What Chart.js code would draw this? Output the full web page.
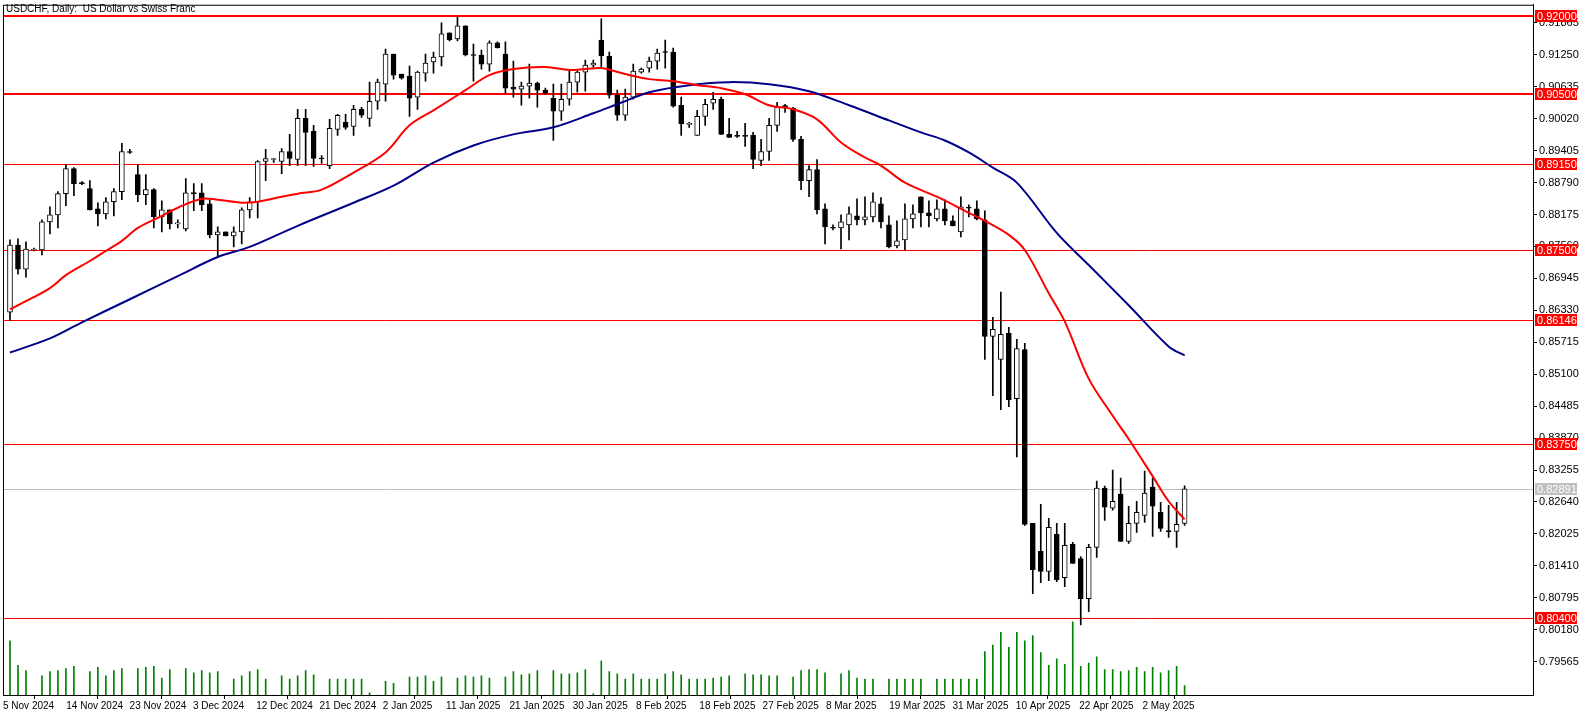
<!DOCTYPE html>
<html><head><meta charset="utf-8">
<script src="https://cdn.jsdelivr.net/npm/chart.js@4/dist/chart.umd.min.js"></script>
<style>html,body{margin:0;padding:0;background:#fff}canvas{display:block}</style>
</head><body>
<canvas id="c" width="1586" height="715"></canvas>
<script>
const title = 'USDCHF, Daily:  US Dollar vs Swiss Franc';
const dateLabels = ['5 Nov 2024','14 Nov 2024','23 Nov 2024','3 Dec 2024','12 Dec 2024','21 Dec 2024','2 Jan 2025','11 Jan 2025','21 Jan 2025','30 Jan 2025','8 Feb 2025','18 Feb 2025','27 Feb 2025','8 Mar 2025','19 Mar 2025','31 Mar 2025','10 Apr 2025','22 Apr 2025','2 May 2025'];
const priceTicks = [0.91865,0.91250,0.90635,0.90020,0.89405,0.88790,0.88175,0.87560,0.86945,0.86330,0.85715,0.85100,0.84485,0.83870,0.83255,0.82640,0.82025,0.81410,0.80795,0.80180,0.79565];
const levels = [0.92000,0.90500,0.89150,0.87500,0.86146,0.83750,0.80400];
const lastPrice = 0.82891;

const open = [0.86292,0.87588,0.87124,0.87491,0.87491,0.88033,0.88168,0.88575,0.89059,0.88788,
0.88672,0.88285,0.88188,0.88420,0.88614,0.89388,0.88943,0.88556,0.88653,0.88130,
0.88265,0.87995,0.87898,0.88594,0.88594,0.88382,0.87782,0.87840,0.87762,0.87840,
0.88265,0.88420,0.89195,0.89233,0.89195,0.89388,0.89233,0.90026,0.89775,0.89253,
0.89117,0.89814,0.89949,0.89872,0.90200,0.90026,0.90355,0.90684,0.91264,0.90878,
0.90839,0.90433,0.90897,0.91110,0.91207,0.91671,0.91555,0.91807,0.91245,0.91245,
0.91071,0.91478,0.91264,0.90626,0.90587,0.90645,0.90703,0.90568,0.90413,0.90162,
0.90394,0.90723,0.90917,0.91052,0.91535,0.91226,0.90471,0.90085,0.90433,0.90917,
0.90994,0.91129,0.91304,0.91304,0.90278,0.89911,0.89698,0.90065,0.90317,0.90394,
0.89717,0.89698,0.89698,0.89698,0.89214,0.89388,0.89891,0.90259,0.90220,0.89620,
0.88827,0.89040,0.88285,0.87917,0.87917,0.87975,0.88149,0.88072,0.88130,0.88382,
0.87975,0.87569,0.87685,0.88091,0.88517,0.88207,0.88091,0.88285,0.88053,0.87840,
0.88304,0.88285,0.88072,0.85827,0.85382,0.85885,0.84627,0.85576,0.82228,0.81687,
0.81300,0.82015,0.81184,0.81822,0.81551,0.80777,0.81764,0.82906,0.82519,0.82790,
0.81880,0.82228,0.82383,0.82925,0.82441,0.82074,0.82074,0.82228];
const high = [0.87685,0.87704,0.87646,0.87530,0.88072,0.88324,0.88614,0.89136,0.89078,0.88807,
0.88827,0.88401,0.88498,0.88672,0.89543,0.89427,0.89136,0.88943,0.88672,0.88440,
0.88265,0.88072,0.88865,0.88769,0.88769,0.88459,0.87937,0.87840,0.87937,0.88304,
0.88498,0.89214,0.89427,0.89253,0.89446,0.89717,0.90200,0.90200,0.89891,0.89311,
0.90007,0.90104,0.90104,0.90278,0.90239,0.90723,0.90781,0.91361,0.91264,0.90878,
0.91033,0.90936,0.91264,0.91304,0.91865,0.91671,0.91980,0.91807,0.91458,0.91342,
0.91516,0.91497,0.91497,0.91129,0.90723,0.91071,0.90723,0.90607,0.90684,0.90684,
0.90955,0.90955,0.91149,0.91149,0.91942,0.91304,0.90568,0.90587,0.91071,0.90994,
0.91207,0.91361,0.91535,0.91381,0.90433,0.89949,0.90181,0.90394,0.90529,0.90433,
0.90026,0.89775,0.89930,0.89755,0.89620,0.90026,0.90336,0.90297,0.90239,0.89679,
0.89117,0.89233,0.88382,0.87975,0.88168,0.88324,0.88478,0.88517,0.88594,0.88498,
0.88149,0.88053,0.88382,0.88362,0.88517,0.88440,0.88459,0.88459,0.88149,0.88517,
0.88362,0.88440,0.88246,0.86195,0.86679,0.86002,0.85769,0.85692,0.82228,0.82596,
0.82325,0.82228,0.82228,0.81861,0.81590,0.81822,0.83041,0.82945,0.83253,0.83099,
0.82557,0.82654,0.83234,0.83099,0.82635,0.82577,0.82635,0.82948];
const low = [0.86137,0.87027,0.86969,0.87472,0.87394,0.87801,0.87917,0.88343,0.88536,0.88749,
0.88265,0.87956,0.88091,0.88149,0.88459,0.89349,0.88420,0.88362,0.87917,0.87840,
0.87898,0.87917,0.87859,0.88246,0.88246,0.87724,0.87356,0.87762,0.87550,0.87608,
0.88111,0.88111,0.88827,0.89175,0.88962,0.89117,0.89117,0.89117,0.89098,0.89156,
0.89059,0.89698,0.89814,0.89698,0.90046,0.89872,0.90200,0.90355,0.90781,0.90781,
0.90065,0.90200,0.90742,0.90897,0.91033,0.91516,0.91516,0.91226,0.90742,0.90975,
0.90936,0.91381,0.90510,0.90433,0.90278,0.90413,0.90239,0.90491,0.89600,0.89988,
0.90278,0.90529,0.90549,0.91013,0.91013,0.90413,0.89987,0.89987,0.90394,0.90897,
0.90917,0.90975,0.90994,0.90239,0.89698,0.89853,0.89698,0.89891,0.90200,0.89717,
0.89659,0.89659,0.89485,0.89059,0.89117,0.89214,0.89775,0.90142,0.89582,0.88653,
0.88517,0.88188,0.87608,0.87879,0.87511,0.87685,0.87975,0.87975,0.88033,0.87917,
0.87530,0.87530,0.87491,0.87917,0.87937,0.87937,0.88053,0.87975,0.87956,0.87743,
0.88130,0.88072,0.85382,0.84685,0.84415,0.84473,0.83505,0.82190,0.80874,0.81087,
0.81126,0.81106,0.81010,0.81455,0.80274,0.80526,0.81571,0.82286,0.82480,0.81880,
0.81842,0.82054,0.82248,0.81977,0.82074,0.81958,0.81764,0.82190];
const close = [0.87588,0.87124,0.87511,0.87511,0.88033,0.88168,0.88575,0.89059,0.88769,0.88769,
0.88265,0.88188,0.88420,0.88614,0.89388,0.89369,0.88556,0.88653,0.88130,0.88265,
0.87995,0.88014,0.88594,0.88575,0.88362,0.87782,0.87840,0.87762,0.87840,0.88265,
0.88420,0.89195,0.89253,0.89243,0.89388,0.89253,0.90026,0.89755,0.89253,0.89243,
0.89833,0.90085,0.89853,0.90200,0.90085,0.90355,0.90723,0.91264,0.90858,0.90800,
0.90413,0.90917,0.91091,0.91207,0.91651,0.91535,0.91807,0.91245,0.91235,0.91071,
0.91478,0.91381,0.90607,0.90587,0.90645,0.90703,0.90568,0.90510,0.90162,0.90394,
0.90723,0.90917,0.91052,0.91091,0.91226,0.90471,0.90085,0.90433,0.90936,0.90975,
0.91129,0.91284,0.91294,0.90259,0.89924,0.89920,0.90065,0.90297,0.90394,0.89717,
0.89659,0.89679,0.89679,0.89233,0.89388,0.89891,0.90239,0.90250,0.89620,0.88827,
0.89040,0.88265,0.87937,0.87910,0.88033,0.88188,0.88072,0.88130,0.88420,0.88033,
0.87550,0.87666,0.88091,0.88188,0.88207,0.88149,0.88285,0.88053,0.87956,0.88324,
0.88295,0.88091,0.85827,0.85963,0.85866,0.84608,0.85595,0.82209,0.81338,0.81300,
0.82151,0.81145,0.81803,0.81455,0.80777,0.81764,0.82906,0.82538,0.82654,0.81880,
0.82228,0.82441,0.82809,0.82557,0.82132,0.82068,0.82209,0.82891];
const volume = [51,28,23,0,18,22,23,25,27,0,22,26,18,23,25,0,25,26,27,16,24,0,25,21,23,21,22,0,15,18,
22,24,15,0,18,15,18,23,19,0,15,15,15,15,15,2,0,13,11,0,17,17,18,13,17,0,16,18,17,18,
16,0,17,22,19,20,23,0,23,20,20,21,24,1,32,22,20,15,20,15,15,15,20,22,19,15,15,15,16,17,
18,0,20,19,19,18,18,0,17,23,24,24,21,0,20,23,16,15,15,0,15,15,15,15,15,0,15,15,15,15,
15,15,41,47,59,45,59,51,56,40,28,34,29,69,27,30,36,24,24,22,23,26,22,26,21,23,27,9];

const fastIdx = [0,2,5,7,10,12,14,16,19,21,24,26,29,31,34,36,39,43,47,50,53,57,60,63,67,70,72,74,77,80,83,86,89,92,95,98,101,104,107,109,112,116,120,122,125,127,130,132,135,138,140,143,145,147];
const fastMA = [0.86350,0.86505,0.86757,0.87008,0.87279,0.87472,0.87666,0.87917,0.88149,0.88304,0.88478,0.88459,0.88401,0.88420,0.88517,0.88575,0.88653,0.88982,0.89369,0.89891,0.90181,0.90568,0.90858,0.90975,0.91013,0.90955,0.90975,0.90994,0.90878,0.90781,0.90742,0.90665,0.90607,0.90491,0.90278,0.90200,0.90007,0.89562,0.89272,0.89117,0.88788,0.88517,0.88207,0.88053,0.87782,0.87491,0.86659,0.86118,0.85014,0.84299,0.83853,0.83137,0.82654,0.82306];
const slowIdx = [0,5,9,15,21,26,30,36,43,48,53,58,63,68,73,76,80,85,90,95,100,105,110,114,117,120,123,126,131,135,140,145,147];
const slowMA = [0.85518,0.85788,0.86098,0.86543,0.86988,0.87356,0.87550,0.87956,0.88401,0.88730,0.89175,0.89504,0.89717,0.89853,0.90123,0.90297,0.90529,0.90665,0.90723,0.90684,0.90549,0.90278,0.89987,0.89755,0.89600,0.89369,0.89078,0.88788,0.87820,0.87201,0.86427,0.85634,0.85460];

const font = '"Liberation Sans", Arial, sans-serif';
const bodyColors = open.map((o,i)=> close[i] >= o ? '#ffffff' : '#000000');

const overlay = {
  id:'overlay',
  beforeDatasetsDraw(chart){
    const {ctx, chartArea:a, scales:{y}} = chart;
    ctx.save();
    let py = Math.round(y.getPixelForValue(lastPrice))+0.5;
    ctx.strokeStyle='#c0c0c0'; ctx.lineWidth=1;
    ctx.beginPath(); ctx.moveTo(a.left,py); ctx.lineTo(a.right,py); ctx.stroke();
    levels.forEach((v,i)=>{
      const p = Math.round(y.getPixelForValue(v));
      ctx.strokeStyle = '#ff0000';
      ctx.lineWidth = i < 2 ? 2 : 1;
      ctx.beginPath(); ctx.moveTo(a.left, i<2 ? p : p+0.5); ctx.lineTo(a.right, i<2 ? p : p+0.5); ctx.stroke();
    });
    ctx.restore();
  },
  afterDraw(chart){
    const {ctx, chartArea:a, scales:{y}} = chart;
    ctx.save();
    ctx.strokeStyle='#000'; ctx.lineWidth=1;
    ctx.strokeRect(a.left+0.5, a.top+0.5, a.right-a.left, a.bottom-a.top);
    ctx.font = '11px ' + font; ctx.textBaseline='middle'; ctx.textAlign='left';
    const box = (v, bg, fg) => {
      const p = Math.round(y.getPixelForValue(v));
      ctx.fillStyle = bg; ctx.fillRect(a.right+2, p-6, 42, 12);
      ctx.fillStyle = fg; ctx.fillText(v.toFixed(5), a.right+4, p+0.5);
    };
    box(lastPrice, '#c0c0c0', '#ffffff');
    levels.forEach(v=>box(v,'#ff0000','#ffffff'));
    ctx.fillStyle='#000'; ctx.font='10px ' + font; ctx.textBaseline='top';
    ctx.fillText(title, 6, 4);
    ctx.restore();
  }
};

new Chart(document.getElementById('c'), {
  type:'bar',
  data:{datasets:[
    {type:'line', data: fastIdx.map((k,i)=>({x:k,y:fastMA[i]})), borderColor:'#ff0000', borderWidth:2, pointRadius:0, tension:0.35, order:0, xAxisID:'x', yAxisID:'y'},
    {type:'line', data: slowIdx.map((k,i)=>({x:k,y:slowMA[i]})), borderColor:'#00008b', borderWidth:2, pointRadius:0, tension:0.35, order:0, xAxisID:'x', yAxisID:'y'},
    {data: open.map((o,i)=>({x:i,y:[o,close[i]]})), backgroundColor: bodyColors, borderColor:'#000', borderWidth:1, borderSkipped:false, barThickness:5, minBarLength:1, grouped:false, order:1, xAxisID:'x', yAxisID:'y'},
    {data: high.map((h,i)=>({x:i,y:[low[i],h]})), backgroundColor:'#000', barThickness:1, grouped:false, order:2, xAxisID:'x', yAxisID:'y'},
    {data: volume.map((v,i)=>({x:i,y:v})), backgroundColor:'#008000', barThickness:1, grouped:false, order:3, xAxisID:'x', yAxisID:'yv'}
  ]},
  options:{
    responsive:false, animation:false, devicePixelRatio:1,
    layout:{padding:{left:3, top:3, right:0, bottom:0}},
    plugins:{legend:{display:false}, tooltip:{enabled:false}},
    scales:{
      x:{type:'linear', display:false, offset:false, min:-0.875, max:190.6},
      xd:{type:'linear', position:'bottom', offset:false, min:0, max:24.17,
        afterBuildTicks(s){ s.ticks = dateLabels.map((_,i)=>({value:i})); },
        afterFit(s){ s.height = 20; },
        grid:{drawOnChartArea:false, drawTicks:true, tickLength:4, color:'#000'},
        border:{display:true, color:'#000'},
        ticks:{align:'start', maxRotation:0, autoSkip:false, padding:1, color:'#000', font:{family:font, size:10},
          callback:(v,i)=>dateLabels[i]}},
      y:{type:'linear', position:'right', min:0.78923, max:0.92213,
        afterBuildTicks(s){ s.ticks = priceTicks.map(v=>({value:v})); },
        afterFit(s){ s.width = 53; },
        grid:{drawOnChartArea:false, drawTicks:true, tickLength:4, color:'#000'},
        border:{display:true, color:'#000'},
        ticks:{padding:2, color:'#000', font:{family:font, size:11, lineHeight:0.5}, callback:v=>Number(v).toFixed(5)}},
      yv:{type:'linear', display:false, min:0, max:651}
    }
  },
  plugins:[overlay]
});
</script>
</body></html>
